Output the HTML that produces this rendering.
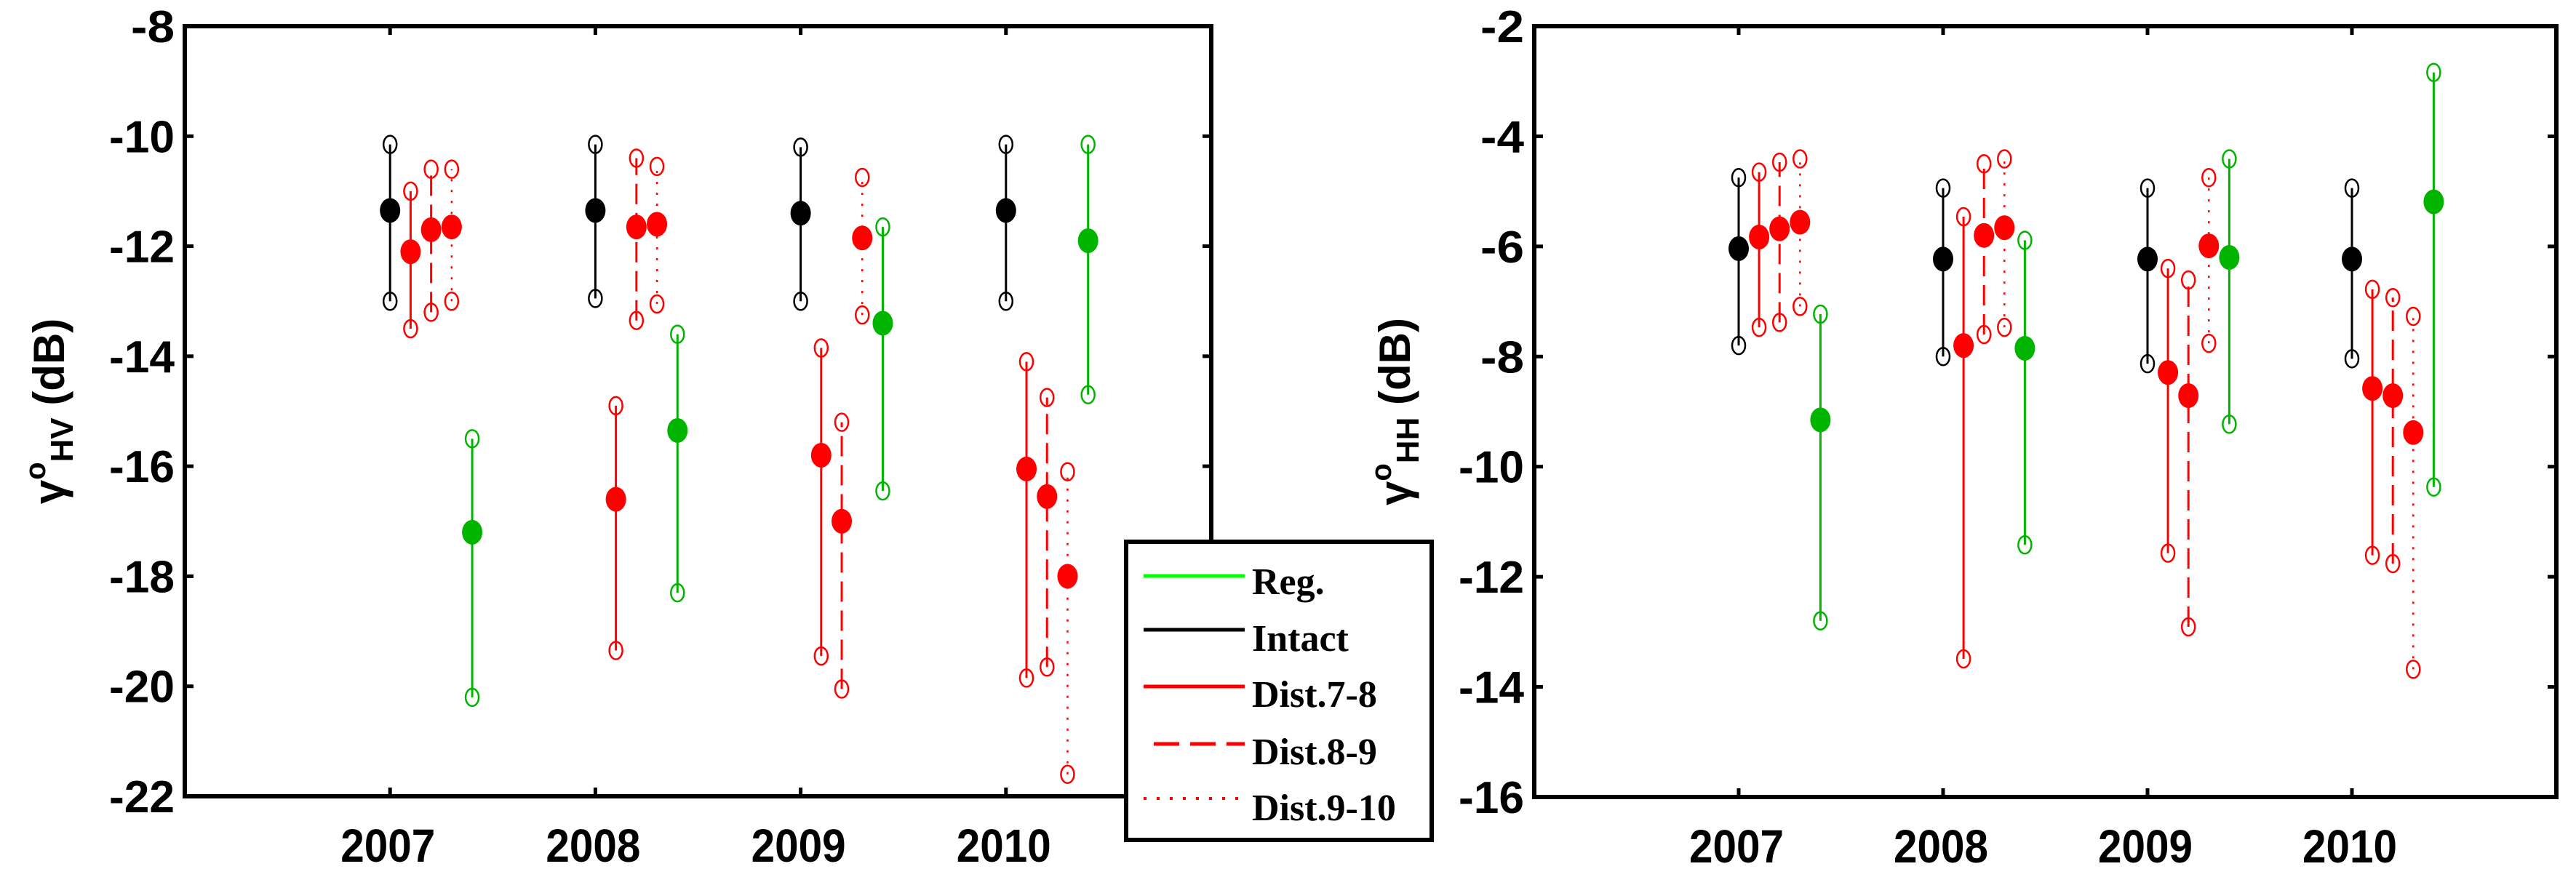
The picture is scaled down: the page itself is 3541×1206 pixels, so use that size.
<!DOCTYPE html>
<html><head><meta charset="utf-8"><style>
html,body{margin:0;padding:0;background:#fff;}
svg{display:block;}
text{font-family:"Liberation Sans",sans-serif;font-weight:bold;}
.leg{font-family:"Liberation Serif",serif;font-weight:bold;font-size:52px;}
</style></head><body>
<svg id="chart" width="3541" height="1206" viewBox="0 0 3541 1206" xmlns="http://www.w3.org/2000/svg">
<g id="p1"></g>
<g id="p2"></g>
<g id="legend">
  <rect x="1548" y="745" width="420" height="410" fill="#fff" stroke="#000" stroke-width="6"/>
  <line x1="1572" y1="792" x2="1711" y2="792" stroke="#00ff00" stroke-width="5"/>
  <text class="leg" x="1721" y="817">Reg.</text>
  <line x1="1572" y1="866" x2="1711" y2="866" stroke="#000" stroke-width="5"/>
  <text class="leg" x="1721" y="895">Intact</text>
  <line x1="1572" y1="944" x2="1711" y2="944" stroke="#ff0000" stroke-width="5"/>
  <text class="leg" x="1721" y="972">Dist.7-8</text>
  <line x1="1586" y1="1023" x2="1711" y2="1023" stroke="#ff0000" stroke-width="5" stroke-dasharray="35,15"/>
  <text class="leg" x="1721" y="1051">Dist.8-9</text>
  <line x1="1572" y1="1098" x2="1711" y2="1098" stroke="#ff0000" stroke-width="4" stroke-dasharray="4,14"/>
  <text class="leg" x="1721" y="1128">Dist.9-10</text>
</g>
</svg>
<script>
const years = [2007, 2008, 2009, 2010];
const seriesNames = ["Intact", "Dist.7-8", "Dist.8-9", "Dist.9-10", "Reg."];
// HV panel: mean, low, high per series per year
const hvMean = [[-11.35,-11.35,-11.4,-11.35],[-12.1,-16.6,-15.8,-16.05],[-11.7,-11.65,-17.0,-16.55],[-11.65,-11.6,-11.85,-18.0],[-17.2,-15.35,-13.4,-11.9]];
const hvLow  = [[-13.0,-12.95,-13.0,-13.0],[-13.5,-19.35,-19.45,-19.85],[-13.2,-13.35,-20.05,-19.65],[-13.0,-13.05,-13.25,-21.6],[-20.2,-18.3,-16.45,-14.7]];
const hvHigh = [[-10.15,-10.15,-10.2,-10.15],[-11.0,-14.9,-13.85,-14.1],[-10.6,-10.4,-15.2,-14.75],[-10.6,-10.55,-10.75,-16.1],[-15.5,-13.6,-11.65,-10.15]];
// HH panel
const hhMean = [[-6.04,-6.23,-6.23,-6.23],[-5.83,-7.8,-8.29,-8.58],[-5.68,-5.8,-8.71,-8.71],[-5.56,-5.66,-5.99,-9.38],[-9.15,-7.85,-6.2,-5.19]];
const hhLow  = [[-7.8,-8.0,-8.13,-8.04],[-7.47,-13.49,-11.57,-11.61],[-7.38,-7.6,-12.91,-11.76],[-7.09,-7.47,-7.76,-13.68],[-12.8,-11.42,-9.23,-10.37]];
const hhHigh = [[-4.75,-4.94,-4.94,-4.94],[-4.65,-5.46,-6.4,-6.78],[-4.47,-4.5,-6.61,-6.93],[-4.41,-4.41,-4.75,-7.27],[-7.23,-5.89,-4.41,-2.84]];
const hvTicks = [-22,-20,-18,-16,-14,-12,-10,-8];
const hhTicks = [-16,-14,-12,-10,-8,-6,-4,-2];

const NS = "http://www.w3.org/2000/svg";
const offsets = [0, 0.1, 0.2, 0.3, 0.4];
const colors = ["#000000","#ff0000","#ff0000","#ff0000","#00b400"];
const dashes2 = ["none","none","28,12","3,12","none"];

function mk(parent, tag, attrs){
  const e = document.createElementNS(NS, tag);
  for (const k in attrs) e.setAttribute(k, attrs[k]);
  parent.appendChild(e);
  return e;
}

function panel(gid, L, R, T, B, ticks, mean, low, high, labSub, labX, prefix){
  const g = document.getElementById(gid);
  const ymin = ticks[0], ymax = ticks[ticks.length-1];
  const xs = v => L + (v - 2006) / 5 * (R - L);
  const ys = v => B - (v - ymin) / (ymax - ymin) * (B - T);
  ticks.forEach(t => {
    const y = ys(t);
    const tl = mk(g, "line", {x1:L, y1:y, x2:L+12, y2:y, stroke:"#000","stroke-width":5});
    
    
    mk(g, "line", {x1:R-12, y1:y, x2:R, y2:y, stroke:"#000","stroke-width":5});
    const tx = mk(g, "text", {x:L-14, y:y+22, "text-anchor":"end", "font-size":62, "textLength": (String(t).length*30), "lengthAdjust":"spacingAndGlyphs"});
    tx.textContent = String(t);
    
    
  });
  years.forEach(yr => {
    const x = xs(yr);
    mk(g, "line", {x1:x, y1:B, x2:x, y2:B-12, stroke:"#000","stroke-width":5});
    mk(g, "line", {x1:x, y1:T, x2:x, y2:T+12, stroke:"#000","stroke-width":5});
    const tx = mk(g, "text", {x:x-3, y:B+90, "text-anchor":"middle", "font-size":64, "textLength":130, "lengthAdjust":"spacingAndGlyphs"});
    tx.textContent = String(yr);
    
    
  });
  for (let s = 0; s < seriesNames.length; s++){
    for (let i = 0; i < years.length; i++){
      const x = xs(years[i] + offsets[s]);
      const grp = mk(g, "g", {});
      
      
      const c = colors[s];
      mk(grp, "line", {x1:x, y1:ys(low[s][i]), x2:x, y2:ys(high[s][i]), stroke:c, "stroke-width": s===3?2.5:3, "stroke-dasharray": dashes2[s]});
      mk(grp, "ellipse", {cx:x, cy:ys(low[s][i]), rx:9, ry:12, fill:"none", stroke:c, "stroke-width":2.5});
      mk(grp, "ellipse", {cx:x, cy:ys(high[s][i]), rx:9, ry:12, fill:"none", stroke:c, "stroke-width":2.5});
      mk(grp, "ellipse", {cx:x, cy:ys(mean[s][i]), rx:14, ry:17, fill:c});
    }
  }
  const box = mk(g, "rect", {x:L, y:T, width:R-L, height:B-T, fill:"none", stroke:"#000", "stroke-width":6});
  
  
  const lab = mk(g, "text", {transform:"translate("+labX+","+((T+B)/2)+") rotate(-90)", "text-anchor":"middle", "font-size":60});
  
  
  lab.innerHTML = '<tspan>γ</tspan><tspan dy="-26" font-size="40">o</tspan><tspan dy="38" font-size="44">' + labSub + '</tspan><tspan dy="-12"> (dB)</tspan>';
}
panel("p1", 254, 1665, 36, 1095, hvTicks, hvMean, hvLow, hvHigh, "HV", 88, "hv");
panel("p2", 2109, 3514, 36, 1096, hhTicks, hhMean, hhLow, hhHigh, "HH", 1938, "hh");
document.getElementById('chart').appendChild(document.getElementById('legend'));
</script>
</body></html>
